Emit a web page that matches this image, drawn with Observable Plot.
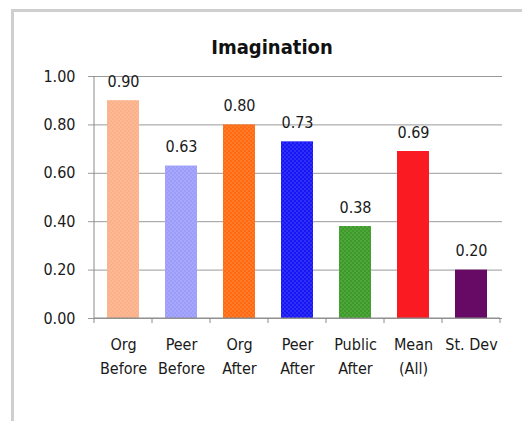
<!DOCTYPE html>
<html><head><meta charset="utf-8">
<script src="https://cdn.jsdelivr.net/npm/d3@7"></script>
<script src="https://cdn.jsdelivr.net/npm/@observablehq/plot@0.6"></script>
<style>
body{margin:0;background:#fff;overflow:hidden;}
#frame{position:absolute;left:11px;top:9px;width:620px;height:520px;border:3px solid #cfcfcf;}
#title{position:absolute;left:0;width:544px;top:35px;text-align:center;font-family:"DejaVu Sans Condensed","DejaVu Sans",sans-serif;font-stretch:condensed;font-weight:bold;font-size:20px;color:#111;}
#chart{position:absolute;left:0;top:0;}
#chart svg text{font-stretch:condensed;}
</style></head><body>
<div id="frame"></div>
<div id="title">Imagination</div>
<div id="chart"></div>
<script>
const categories = ["Org\nBefore","Peer\nBefore","Org\nAfter","Peer\nAfter","Public\nAfter","Mean\n(All)","St. Dev"];
const values = [0.90,0.63,0.80,0.73,0.38,0.69,0.20];
const labels = ["0.90","0.63","0.80","0.73","0.38","0.69","0.20"];
const colors = ["#FBB088","#9C9CFA","#FF6A10","#1515F5","#3C9A26","#FA1A22","#660A66"];
const dotted = [true,true,true,true,true,false,false];
const yTicks = [0,0.2,0.4,0.6,0.8,1.0];

const data = categories.map((c,i)=>({cat:c,value:values[i],label:labels[i],color:colors[i],dotted:dotted[i]}));
const font = '"DejaVu Sans Condensed","DejaVu Sans",sans-serif';

const defs = () => {
  const svg = d3.create("svg:defs");
  const p = svg.append("pattern").attr("id","dots").attr("width",4).attr("height",4).attr("patternUnits","userSpaceOnUse");
  p.append("circle").attr("cx",1).attr("cy",1).attr("r",0.7).attr("fill","#fff").attr("fill-opacity",0.3);
  p.append("circle").attr("cx",3).attr("cy",3).attr("r",0.7).attr("fill","#fff").attr("fill-opacity",0.3);
  return svg.node();
};

const axisLines = (index, scales, values, dims) => {
  const g = d3.create("svg:g");
  const x = scales.x, step = x.step();
  const y0 = dims.height - dims.marginBottom;
  const xs = categories.map(c => x(c) - (step - x.bandwidth())/2);
  xs.push(xs[xs.length-1] + step);
  for (const px of xs) {
    g.append("line").attr("x1",px).attr("x2",px).attr("y1",y0).attr("y2",y0+5).attr("stroke","#8a8a8a");
  }
  g.append("line").attr("x1",xs[0]).attr("x2",xs[xs.length-1]).attr("y1",y0).attr("y2",y0).attr("stroke","#8a8a8a");
  g.append("line").attr("x1",xs[0]).attr("x2",xs[0]).attr("y1",dims.marginTop).attr("y2",y0).attr("stroke","#8a8a8a");
  return g.node();
};

const plot = Plot.plot({
  width: 522, height: 421,
  marginLeft: 91, marginRight: 20, marginTop: 76, marginBottom: 103,
  style: {fontFamily: font, fontSize: "16px", color: "#1a1a1a", background: "transparent"},
  x: {domain: categories, paddingInner: 0.45, paddingOuter: 0.225, label: null, axis: null},
  y: {domain: [0,1], label: null, axis: null},
  marks: [
    defs,
    Plot.ruleY(yTicks, {stroke: "#9a9a9a", strokeWidth: 1, insetLeft: -3}),
    Plot.axisY(yTicks, {tickFormat: d=>d.toFixed(2), tickSize: 0, tickPadding: 16, fontSize: 16, label: null}),
    Plot.barY(data, {x: "cat", y: "value", fill: "color"}),
    Plot.barY(data.filter(d=>d.dotted), {x: "cat", y: "value", fill: "url(#dots)"}),
    Plot.text(data, {x: "cat", y: "value", text: "label", dy: -19, fontSize: 16, fill: "#1a1a1a"}),
    Plot.axisX({tickSize: 0, tickPadding: 14, fontSize: 16, lineHeight: 1.5, label: null, textAnchor:"middle"}),
    axisLines
  ]
});
document.getElementById("chart").appendChild(plot);
</script>
</body></html>
